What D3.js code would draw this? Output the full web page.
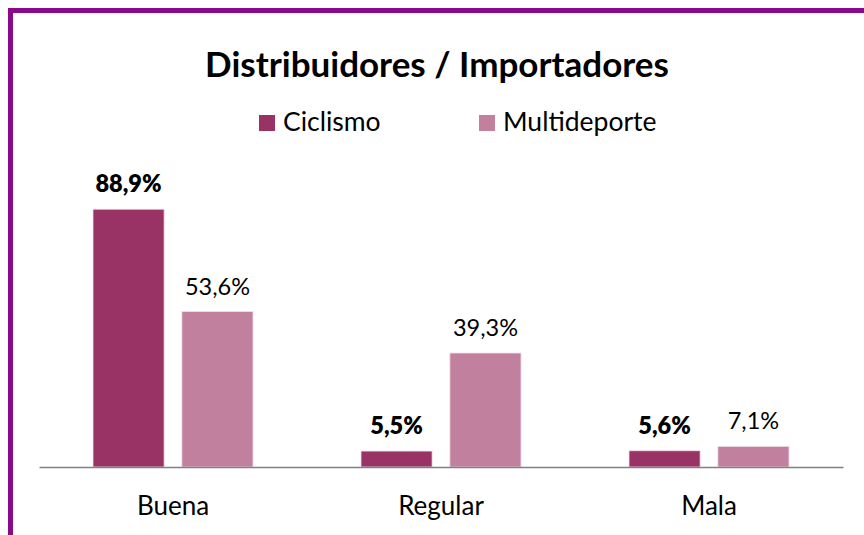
<!DOCTYPE html>
<html>
<head>
<meta charset="utf-8">
<script src="https://cdn.jsdelivr.net/npm/d3@7"></script>
<style>
  body { margin: 0; background: #fff; }
  svg { display: block; font-family: Lato, "Open Sans", sans-serif; }
</style>
</head>
<body>
<div id="chart"></div>
<script>
const width = 864, height = 535;

const categories = ["Buena", "Regular", "Mala"];
const seriesNames = ["Ciclismo", "Multideporte"];
const ciclismo = [88.9, 5.5, 5.6];
const multideporte = [53.6, 39.3, 7.1];
const colors = ["#993366", "#c0809e"];

const rows = categories.map((c, i) => ({ cat: c, values: [ciclismo[i], multideporte[i]] }));

const svg = d3.select("#chart").append("svg")
  .attr("width", width).attr("height", height);

// frame (right / bottom edges fall outside the window)
svg.append("rect")
  .attr("x", 10.5).attr("y", 10.5)
  .attr("width", width + 20).attr("height", height + 20)
  .attr("fill", "none").attr("stroke", "#8b0a8b").attr("stroke-width", 5);

const x0 = d3.scaleBand().domain(categories).range([39, 843]).paddingInner(0).paddingOuter(0);
const x1 = d3.scaleBand().domain(seriesNames).range([54, 268 - 54]).paddingInner(0.2).paddingOuter(0);
const y = d3.scaleLinear().domain([0, 100]).range([467, 177]);

svg.append("text")
  .attr("x", 437).attr("y", 77)
  .attr("text-anchor", "middle")
  .attr("font-size", 35).attr("font-weight", 700)
  .text("Distribuidores / Importadores");

// legend
const legendX = [259, 479];
const lg = svg.append("g").selectAll("g").data(seriesNames).join("g")
  .attr("transform", (d, i) => `translate(${legendX[i]},115)`);
lg.append("rect").attr("width", 16).attr("height", 16).attr("fill", (d, i) => colors[i]);
lg.append("text").attr("x", 24).attr("y", 16).attr("font-size", 26.5).attr("fill", "#000").text(d => d);

const groups = svg.append("g").selectAll("g").data(rows).join("g")
  .attr("transform", d => `translate(${x0(d.cat)},0)`);

groups.selectAll("rect")
  .data(d => d.values.map((v, i) => ({ key: seriesNames[i], v, i })))
  .join("rect")
  .attr("x", d => x1(d.key))
  .attr("y", d => y(d.v))
  .attr("width", x1.bandwidth())
  .attr("height", d => y(0) - y(d.v))
  .attr("fill", d => colors[d.i])
  .attr("stroke", "#f3dde8").attr("stroke-width", 0.8);

groups.selectAll("text.val")
  .data(d => d.values.map((v, i) => ({ key: seriesNames[i], v, i })))
  .join("text")
  .attr("class", "val")
  .attr("x", d => x1(d.key) + x1.bandwidth() / 2)
  .attr("y", d => y(d.v) - 17)
  .attr("text-anchor", "middle")
  .attr("font-size", 23.5)
  .attr("font-weight", d => d.i === 0 ? 800 : 400)
  .text(d => d.v.toFixed(1).replace(".", ",") + "%");

// axis
const axis = svg.append("g").attr("transform", `translate(0,${y(0)})`)
  .call(d3.axisBottom(x0).tickSize(0).tickPadding(30));
axis.select(".domain").attr("stroke", "#808080").attr("stroke-width", 1.5);
axis.selectAll("text").attr("font-size", 26).attr("fill", "#000").attr("font-family", "Lato, 'Open Sans', sans-serif");
</script>
</body>
</html>
